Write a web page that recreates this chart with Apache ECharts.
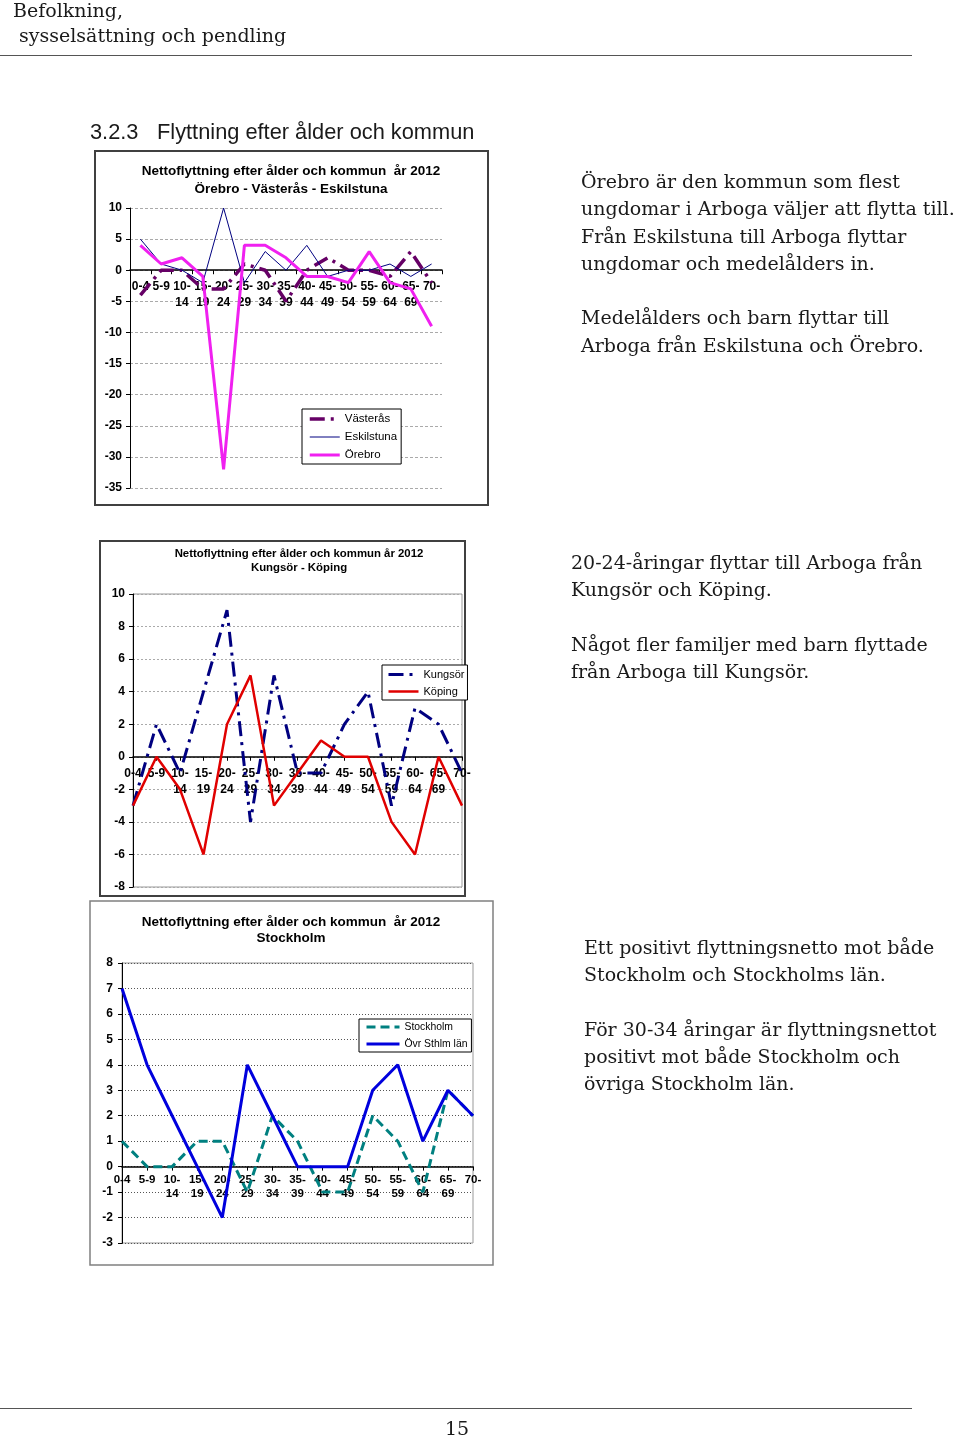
<!DOCTYPE html>
<html>
<head>
<meta charset="utf-8">
<script src="https://cdn.jsdelivr.net/npm/echarts@6/dist/echarts.min.js"></script>
<style>
html,body{margin:0;padding:0;background:#fff;}
#page{position:relative;width:960px;height:1438px;overflow:hidden;background:#fff;}
#chart{position:absolute;left:0;top:0;width:960px;height:1438px;}
.serif{position:absolute;white-space:nowrap;font-family:'DejaVu Serif',serif;font-size:19px;line-height:27.3px;color:#1a1a1a;}
.sans{position:absolute;white-space:nowrap;font-family:'Liberation Sans',Arial,sans-serif;font-size:21.8px;line-height:26px;color:#1a1a1a;}
.rule{position:absolute;left:0;width:912px;height:0;border-top:1px solid #555;}
</style>
</head>
<body>
<div id="page">
  <div id="chart"></div>
  <div class="serif" style="left:13px;top:-2px;line-height:25px;">Befolkning,<br>&nbsp;sysselsättning och pendling</div>
  <div class="rule" style="top:55px;"></div>
  <div class="sans" style="left:90px;top:119px;">3.2.3</div>
  <div class="sans" style="left:157px;top:119px;">Flyttning efter ålder och kommun</div>

  <div class="serif" style="left:581px;top:168px;">Örebro är den kommun som flest<br>ungdomar i Arboga väljer att flytta till.<br>Från Eskilstuna till Arboga flyttar<br>ungdomar och medelålders in.<br><br>Medelålders och barn flyttar till<br>Arboga från Eskilstuna och Örebro.</div>

  <div class="serif" style="left:571px;top:549px;">20-24-åringar flyttar till Arboga från<br>Kungsör och Köping.<br><br>Något fler familjer med barn flyttade<br>från Arboga till Kungsör.</div>

  <div class="serif" style="left:584px;top:934px;">Ett positivt flyttningsnetto mot både<br>Stockholm och Stockholms län.<br><br>För 30-34 åringar är flyttningsnettot<br>positivt mot både Stockholm och<br>övriga Stockholm län.</div>

  <div class="rule" style="top:1408px;"></div>
  <div class="serif" style="left:445px;top:1415px;">15</div>
</div>
<script>
// ---- data ----
const ageGroups = ['0-4','5-9','10-14','15-19','20-24','25-29','30-34','35-39','40-44','45-49','50-54','55-59','60-64','65-69','70-'];
// Chart 1: Örebro - Västerås - Eskilstuna
const vasteras   = [-4, 0, 0, -3, -3, 1, 0, -5, 0, 2, 0, 0, -1, 3, -2];
const eskilstuna = [5, 1, 0, -2, 10, -2, 3, 0, 4, -1, 0, 0, 1, -1, 1];
const orebro     = [4, 1, 2, -1, -32, 4, 4, 2, -1, -1, -2, 3, -2, -3, -9];
// Chart 2: Kungsör - Köping
const kungsor = [-3, 2, -1, 4, 9, -4, 5, -1, -1, 2, 4, -3, 3, 2, -1];
const koping  = [-3, 0, -2, -6, 2, 5, -3, -1, 1, 0, 0, -4, -6, 0, -3];
// Chart 3: Stockholm
const stockholm = [1, 0, 0, 1, 1, -1, 2, 1, -1, -1, 2, 1, -1, 3, 2];
const ovrSthlm  = [7, 4, 2, 0, -2, 4, 2, 0, 0, 0, 3, 4, 1, 3, 2];

const titles = [
  'Nettoflyttning efter ålder och kommun  år 2012\nÖrebro - Västerås - Eskilstuna',
  'Nettoflyttning efter ålder och kommun år 2012\nKungsör - Köping',
  'Nettoflyttning efter ålder och kommun  år 2012\nStockholm'
];

const FONT = "'Liberation Sans', Arial, sans-serif";
const grids = [
  {left:130, top:208, width:312, height:280},
  {left:133, top:594, width:329, height:293, show:true, borderColor:'#999', borderWidth:1, backgroundColor:'transparent'},
  {left:122, top:963, width:351, height:280, show:true, borderColor:'#999', borderWidth:1, backgroundColor:'transparent'}
];
const yRanges = [[-35, 10, 5], [-8, 10, 2], [-3, 8, 1]];

function catLabel(v){ const m = /^(\d\d-)(\d+)$/.exec(v); return m ? m[1] + '\n' + m[2] : v; }
function yAx(idx, gridColor, gridType, margin, fs){
  const r = yRanges[idx];
  return {type:'value', gridIndex:idx, min:r[0], max:r[1], interval:r[2],
    axisLine:{show:true, lineStyle:{color:'#000', width:1}},
    axisTick:{show:true, length:4, lineStyle:{color:'#000'}},
    axisLabel:{margin:margin, color:'#000', fontSize:fs, fontWeight:'bold', fontFamily:FONT},
    splitLine:{show:true, lineStyle:{color:gridColor, type:gridType, width:1}}};
}
function xAx(idx, gap, margin, fs, lh){
  const r = yRanges[idx];
  // place the category axis at value 0 of the value axis
  const zeroOffset = -grids[idx].height * (0 - r[0]) / (r[1] - r[0]);
  return {type:'category', gridIndex:idx, data:ageGroups, boundaryGap:gap, position:'bottom', offset:zeroOffset,
    axisLine:{onZero:false, lineStyle:{color:'#000', width:1.5}},
    axisTick:{show:true, length:4, lineStyle:{color:'#000'}},
    axisLabel:{interval:0, margin:margin, color:'#000', fontSize:fs, fontWeight:'bold', fontFamily:FONT, lineHeight:lh, formatter:catLabel},
    splitLine:{show:false}};
}
const styles = {
  'Västerås':      {color:'#660066', width:3.5, type:[15,6,3,6]},
  'Eskilstuna':    {color:'#000080', width:1,   type:'solid'},
  'Örebro':        {color:'#F020F0', width:3,   type:'solid'},
  'Kungsör':       {color:'#000080', width:3,   type:[15,6,3,6]},
  'Köping':        {color:'#E00000', width:2.5, type:'solid'},
  'Stockholm':     {color:'#008080', width:3,   type:[9,5]},
  'Övr Sthlm län': {color:'#0000DD', width:3,   type:'solid'}
};
function lineSeries(name, data, idx, z){
  const s = styles[name];
  return {name:name, type:'line', xAxisIndex:idx, yAxisIndex:idx, data:data, symbol:'none', smooth:false,
    lineStyle:{color:s.color, width:s.width, type:s.type}, itemStyle:{color:s.color}, z:z, animation:false};
}
function legendItems(names){
  return names.map(n => ({name:n, lineStyle:{color:styles[n].color, width:styles[n].width, type:styles[n].type}}));
}
const legendBase = {orient:'vertical', borderColor:'#000', borderWidth:1, backgroundColor:'#fff', itemHeight:12, selectedMode:false,
  itemStyle:{opacity:0, borderWidth:0}};

const chart = echarts.init(document.getElementById('chart'));
chart.setOption({
  animation:false,
  backgroundColor:'transparent',
  title:[
    {text:titles[0], left:291, top:162, textAlign:'center', padding:0, textStyle:{fontFamily:FONT, fontSize:13.5, fontWeight:'bold', color:'#000', lineHeight:18}},
    {text:titles[1], left:299, top:547, textAlign:'center', padding:0, textStyle:{fontFamily:FONT, fontSize:11.4, fontWeight:'bold', color:'#000', lineHeight:14}},
    {text:titles[2], left:291, top:914, textAlign:'center', padding:0, textStyle:{fontFamily:FONT, fontSize:13.5, fontWeight:'bold', color:'#000', lineHeight:16}}
  ],
  graphic:[
    {type:'rect', shape:{x:95, y:151, width:393, height:354}, style:{fill:'none', stroke:'#404040', lineWidth:2}, z:-10},
    {type:'rect', shape:{x:100, y:541, width:365, height:355}, style:{fill:'none', stroke:'#404040', lineWidth:2}, z:-10},
    {type:'rect', shape:{x:90, y:901, width:403, height:364}, style:{fill:'none', stroke:'#808080', lineWidth:1.5}, z:-10}
  ],
  grid:grids,
  xAxis:[ xAx(0, true, 8, 12, 16), xAx(1, false, 9, 12, 16), xAx(2, false, 6, 11.5, 14) ],
  yAxis:[ yAx(0, '#aaa', [3,2], 8, 12), yAx(1, '#aaa', [2,2], 8, 12), yAx(2, '#555', [1,2], 9, 12) ],
  legend:[
    Object.assign({}, legendBase, {data:legendItems(['Västerås','Eskilstuna','Örebro']), left:302, top:409, padding:[4,4,3,6], itemGap:6, itemWidth:30, textStyle:{color:'#000', fontFamily:FONT, fontSize:11.5}}),
    Object.assign({}, legendBase, {data:legendItems(['Kungsör','Köping']), left:382, top:665, padding:[4,3,3,5], itemGap:6, itemWidth:30, textStyle:{color:'#000', fontFamily:FONT, fontSize:11}}),
    Object.assign({}, legendBase, {data:legendItems(['Stockholm','Övr Sthlm län']), left:359, top:1019, padding:[3,4,3,6], itemGap:7, itemWidth:33, textStyle:{color:'#000', fontFamily:FONT, fontSize:10.4}})
  ],
  series:[
    lineSeries('Västerås', vasteras, 0, 3),
    lineSeries('Eskilstuna', eskilstuna, 0, 4),
    lineSeries('Örebro', orebro, 0, 5),
    lineSeries('Kungsör', kungsor, 1, 3),
    lineSeries('Köping', koping, 1, 4),
    lineSeries('Stockholm', stockholm, 2, 3),
    lineSeries('Övr Sthlm län', ovrSthlm, 2, 4)
  ]
});
</script>
</body>
</html>
